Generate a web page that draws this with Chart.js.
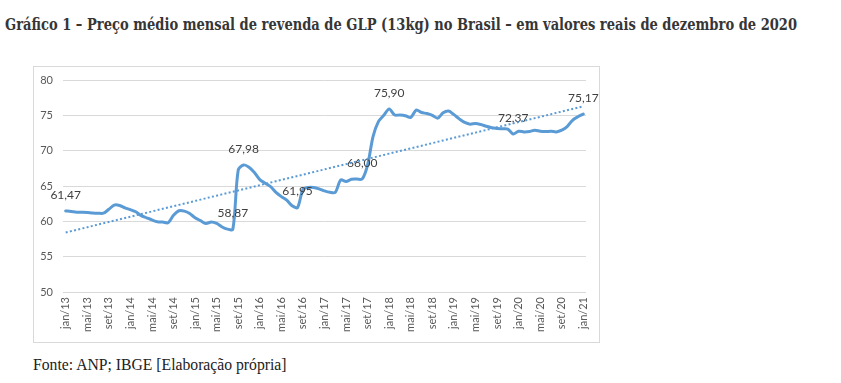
<!DOCTYPE html>
<html>
<head>
<meta charset="utf-8">
<script src="https://cdn.jsdelivr.net/npm/chart.js@4/dist/chart.umd.min.js"></script>
<style>
  html, body { margin: 0; padding: 0; background: #fff; }
  body { width: 841px; height: 383px; position: relative; overflow: hidden; }
  #title { position: absolute; left: 5px; top: 15px; white-space: nowrap;
    font-family: "DejaVu Serif", "Liberation Serif", serif; font-weight: bold;
    font-size: 16px; color: #363636; transform-origin: 0 0; }
  #box { position: absolute; left: 33px; top: 66px; width: 565px; height: 275px;
    border: 1px solid #d9d9d9; }
  #box canvas { position: absolute; left: 0; top: 0; }
  #source { position: absolute; left: 33px; top: 356px; white-space: nowrap;
    font-family: "Liberation Serif", serif; font-size: 15.7px; color: #222; }
</style>
</head>
<body>
<div id="title">Gráfico 1 – Preço médio mensal de revenda de GLP (13kg) no Brasil – em valores reais de dezembro de 2020</div>
<div id="box"><canvas id="c" width="565" height="275"></canvas></div>
<div id="source">Fonte: ANP; IBGE [Elaboração própria]</div>
<script>
// ---- data ----
const monthNames = ['jan','fev','mar','abr','mai','jun','jul','ago','set','out','nov','dez'];
const years = ['13','14','15','16','17','18','19','20','21'];
const prices = [
  61.47, 61.40, 61.30, 61.28, 61.25, 61.18, 61.15, 61.15, 61.70, 62.30, 62.25, 61.90, // 2013
  61.65, 61.35, 60.80, 60.50, 60.20, 59.95, 59.90, 59.80, 60.85, 61.50, 61.45, 61.10, // 2014
  60.50, 60.10, 59.70, 59.90, 59.70, 59.20, 58.90, 58.87, 67.25, 67.98, 67.65, 66.90, // 2015
  65.90, 65.40, 64.90, 64.10, 63.50, 63.00, 62.20, 61.95, 64.50, 64.80, 64.80, 64.60, // 2016
  64.30, 64.10, 64.10, 65.85, 65.65, 65.95, 65.98, 66.00, 68.00, 72.00, 74.10, 75.00, // 2017
  75.90, 75.05, 75.05, 74.95, 74.70, 75.75, 75.40, 75.25, 75.00, 74.60, 75.35, 75.60, // 2018
  75.10, 74.50, 74.00, 73.75, 73.85, 73.70, 73.45, 73.25, 73.15, 73.10, 73.05, 72.37, // 2019
  72.75, 72.65, 72.70, 72.90, 72.75, 72.70, 72.75, 72.65, 72.90, 73.40, 74.30, 74.80, // 2020
  75.17                                                                                 // jan/21
];
const labeledPoints = [0, 31, 33, 43, 55, 60, 83, 96];
const yTicks = [50, 55, 60, 65, 70, 75, 80];

// ---- derived ----
const categories = [];
years.forEach(y => {
  monthNames.forEach(m => { if (categories.length < prices.length) categories.push(m + '/' + y); });
});
// least-squares linear trend of the series
const n = prices.length;
let sx = 0, sy = 0, sxx = 0, sxy = 0;
prices.forEach((v, i) => { sx += i; sy += v; sxx += i * i; sxy += i * v; });
const slope = (n * sxy - sx * sy) / (n * sxx - sx * sx);
const intercept = (sy - slope * sx) / n;
const trend = prices.map((v, i) => intercept + slope * i);

const FONT = "Lato, 'Open Sans', sans-serif";

// fit title width to reference
const t = document.getElementById('title');
const tw = t.getBoundingClientRect().width;
t.style.transform = 'scaleX(' + (792 / tw) + ')';

const labelPlugin = {
  id: 'pointLabels',
  afterDatasetDraw(chart, args) {
    if (args.index !== 0) return;
    const ctx = chart.ctx;
    ctx.save();
    ctx.font = "12px " + FONT;
    ctx.fillStyle = '#404040';
    ctx.textAlign = 'center';
    ctx.textBaseline = 'middle';
    labeledPoints.forEach(i => {
      const el = args.meta.data[i];
      ctx.fillText(prices[i].toFixed(2).replace('.', ','), el.x, el.y - 16);
    });
    ctx.restore();
  }
};

new Chart(document.getElementById('c'), {
  type: 'line',
  data: {
    labels: categories,
    datasets: [
      { data: prices, borderColor: '#5b9bd5', borderWidth: 3, pointRadius: 0,
        tension: 0.3, fill: false, order: 1, borderCapStyle: 'round', borderJoinStyle: 'round' },
      { data: trend, borderColor: '#5b9bd5', borderWidth: 2, pointRadius: 0,
        borderDash: [2, 2.3], fill: false, order: 0, tension: 0 }
    ]
  },
  options: {
    responsive: false,
    animation: false,
    events: [],
    layout: { padding: { left: 0, right: 13, top: 13, bottom: 0 } },
    plugins: { legend: { display: false }, tooltip: { enabled: false }, title: { display: false } },
    scales: {
      x: {
        offset: true,
        grid: { display: false, drawTicks: false },
        border: { display: false },
        ticks: {
          autoSkip: false, maxRotation: 90, minRotation: 90, padding: 5,
          color: '#595959', font: { family: FONT, size: 11 },
          callback: function (v, i) { return i % 4 === 0 ? categories[i] : ''; }
        },
        afterFit: s => { s.height = 50; s.paddingLeft = 0; s.paddingRight = 0; }
      },
      y: {
        min: 50, max: 80,
        afterBuildTicks: s => { s.ticks = yTicks.map(v => ({ value: v })); },
        grid: { color: '#d9d9d9', lineWidth: 1, drawTicks: false },
        border: { display: false },
        ticks: { padding: 10, color: '#595959', font: { family: FONT, size: 11 } },
        afterFit: s => { s.width = 29; s.paddingTop = 0; s.paddingBottom = 0; }
      }
    }
  },
  plugins: [labelPlugin]
});
</script>
</body>
</html>
